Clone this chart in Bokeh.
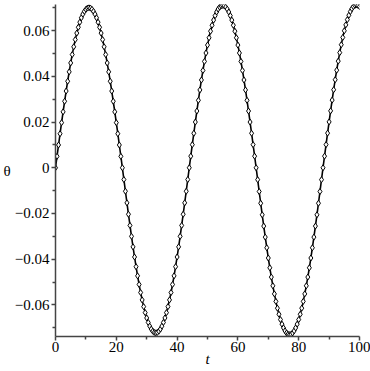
from bokeh.plotting import figure
from bokeh.models import Range1d, FixedTicker, CustomJSTickFormatter
from bokeh.embed import file_html
from bokeh.resources import INLINE

# sample times (t) and theta values
t = [0, 0.5, 1, 1.5, 2, 2.5, 3, 3.5, 4, 4.5, 5, 5.5, 6, 6.5, 7, 7.5, 8, 8.5, 9, 9.5,
     10, 10.5, 11, 11.5, 12, 12.5, 13, 13.5, 14, 14.5, 15, 15.5, 16, 16.5, 17, 17.5, 18, 18.5, 19, 19.5,
     20, 20.5, 21, 21.5, 22, 22.5, 23, 23.5, 24, 24.5, 25, 25.5, 26, 26.5, 27, 27.5, 28, 28.5, 29, 29.5,
     30, 30.5, 31, 31.5, 32, 32.5, 33, 33.5, 34, 34.5, 35, 35.5, 36, 36.5, 37, 37.5, 38, 38.5, 39, 39.5,
     40, 40.5, 41, 41.5, 42, 42.5, 43, 43.5, 44, 44.5, 45, 45.5, 46, 46.5, 47, 47.5, 48, 48.5, 49, 49.5,
     50, 50.5, 51, 51.5, 52, 52.5, 53, 53.5, 54, 54.5, 55, 55.5, 56, 56.5, 57, 57.5, 58, 58.5, 59, 59.5,
     60, 60.5, 61, 61.5, 62, 62.5, 63, 63.5, 64, 64.5, 65, 65.5, 66, 66.5, 67, 67.5, 68, 68.5, 69, 69.5,
     70, 70.5, 71, 71.5, 72, 72.5, 73, 73.5, 74, 74.5, 75, 75.5, 76, 76.5, 77, 77.5, 78, 78.5, 79, 79.5,
     80, 80.5, 81, 81.5, 82, 82.5, 83, 83.5, 84, 84.5, 85, 85.5, 86, 86.5, 87, 87.5, 88, 88.5, 89, 89.5,
     90, 90.5, 91, 91.5, 92, 92.5, 93, 93.5, 94, 94.5, 95, 95.5, 96, 96.5, 97, 97.5, 98, 98.5, 99, 99.5,
     100]

# first positive swing (t = 0 .. 22)
theta_swing1 = [0, 0.00499, 0.00996, 0.01488, 0.01972, 0.02446, 0.02908, 0.03355, 0.03784, 0.04195,
                0.04584, 0.04950, 0.05290, 0.05604, 0.05889, 0.06144, 0.06367, 0.06559, 0.06716, 0.06840,
                0.06929, 0.06982, 0.07000, 0.06982, 0.06929, 0.06840, 0.06716, 0.06559, 0.06367, 0.06144,
                0.05889, 0.05604, 0.05290, 0.04950, 0.04584, 0.04195, 0.03784, 0.03355, 0.02908, 0.02446,
                0.01972, 0.01488, 0.00996, 0.00499, 0]
# first negative swing (t = 22.5 .. 44)
theta_swing2 = [-0.00515, -0.01027, -0.01535, -0.02034, -0.02523, -0.02999, -0.03460, -0.03903, -0.04327, -0.04728,
                -0.05105, -0.05457, -0.05780, -0.06074, -0.06337, -0.06568, -0.06765, -0.06927, -0.07055, -0.07147,
                -0.07202, -0.07220, -0.07202, -0.07147, -0.07055, -0.06927, -0.06765, -0.06568, -0.06337, -0.06074,
                -0.05780, -0.05457, -0.05105, -0.04728, -0.04327, -0.03903, -0.03460, -0.02999, -0.02523, -0.02034,
                -0.01535, -0.01027, -0.00515, 0]
# second positive swing (t = 44.5 .. 66)
theta_swing3 = [0.00507, 0.01010, 0.01509, 0.02000, 0.02481, 0.02950, 0.03403, 0.03839, 0.04255, 0.04650,
                0.05020, 0.05366, 0.05684, 0.05973, 0.06232, 0.06458, 0.06652, 0.06812, 0.06938, 0.07028,
                0.07082, 0.07100, 0.07082, 0.07028, 0.06938, 0.06812, 0.06652, 0.06458, 0.06232, 0.05973,
                0.05684, 0.05366, 0.05020, 0.04650, 0.04255, 0.03839, 0.03403, 0.02950, 0.02481, 0.02000,
                0.01509, 0.01010, 0.00507, 0]
# second negative swing (t = 66.5 .. 88)
theta_swing4 = [-0.00521, -0.01039, -0.01552, -0.02057, -0.02551, -0.03033, -0.03499, -0.03947, -0.04375, -0.04781,
                -0.05162, -0.05517, -0.05844, -0.06141, -0.06407, -0.06640, -0.06840, -0.07004, -0.07133, -0.07226,
                -0.07281, -0.07300, -0.07281, -0.07226, -0.07133, -0.07004, -0.06840, -0.06640, -0.06407, -0.06141,
                -0.05844, -0.05517, -0.05162, -0.04781, -0.04375, -0.03947, -0.03499, -0.03033, -0.02551, -0.02057,
                -0.01552, -0.01039, -0.00521, 0]
# final positive swing (t = 88.5 .. 100)
theta_swing5 = [0.00508, 0.01013, 0.01514, 0.02006, 0.02488, 0.02958, 0.03412, 0.03849, 0.04267, 0.04663,
                0.05035, 0.05381, 0.05700, 0.05990, 0.06249, 0.06477, 0.06671, 0.06832, 0.06957, 0.07048,
                0.07102, 0.07120, 0.07102, 0.07048]

theta = theta_swing1 + theta_swing2 + theta_swing3 + theta_swing4 + theta_swing5

x_ticks = [0, 20, 40, 60, 80, 100]
x_minor = [10, 30, 50, 70, 90]
y_ticks = [-0.06, -0.04, -0.02, 0, 0.02, 0.04, 0.06]
y_minor = [-0.07, -0.05, -0.03, -0.01, 0.01, 0.03, 0.05, 0.07]

p = figure(width=370, height=371, output_backend="svg", toolbar_location=None,
           x_range=Range1d(0, 100), y_range=Range1d(-0.0738, 0.0714),
           min_border_left=55, min_border_right=11, min_border_top=4, min_border_bottom=35)
p.grid.visible = False
p.outline_line_color = None
p.background_fill_color = "white"
p.border_fill_color = "white"

p.line(t, theta, line_color="black", line_width=1.6)
p.scatter(t, theta, marker="diamond", size=6, fill_color="white", line_color="black", line_width=1)

font = "Liberation Serif"
for ax in (p.xaxis[0], p.yaxis[0]):
    ax.axis_line_color = "#444444"
    ax.axis_line_width = 1.5
    ax.major_tick_line_color = "#444444"
    ax.minor_tick_line_color = "#444444"
    ax.major_tick_line_width = 1.5
    ax.minor_tick_line_width = 1.5
    ax.major_tick_in = 0
    ax.major_tick_out = 4
    ax.minor_tick_in = 0
    ax.minor_tick_out = 3
    ax.major_label_text_font = font
    ax.major_label_text_font_size = "15px"
    ax.major_label_text_color = "black"
    ax.axis_label_text_font = font
    ax.axis_label_text_font_size = "15px"
    ax.axis_label_text_color = "black"

p.xaxis[0].ticker = FixedTicker(ticks=x_ticks, minor_ticks=x_minor)
p.yaxis[0].ticker = FixedTicker(ticks=y_ticks, minor_ticks=y_minor)
p.yaxis[0].formatter = CustomJSTickFormatter(code="""
    if (Math.abs(tick) < 1e-12) { return "0"; }
    const s = Math.abs(tick).toFixed(2);
    return tick < 0 ? "\u2212" + s : s;
""")

p.xaxis[0].major_label_standoff = 1
p.xaxis[0].axis_label = "t"
p.xaxis[0].axis_label_text_font_style = "italic"
p.xaxis[0].axis_label_standoff = -4
p.yaxis[0].major_label_standoff = 2
p.yaxis[0].axis_label = "θ"
p.yaxis[0].axis_label_text_font_style = "normal"
p.yaxis[0].axis_label_orientation = "horizontal"
p.yaxis[0].axis_label_standoff = 1

open("out.html", "w").write(file_html(p, INLINE))
